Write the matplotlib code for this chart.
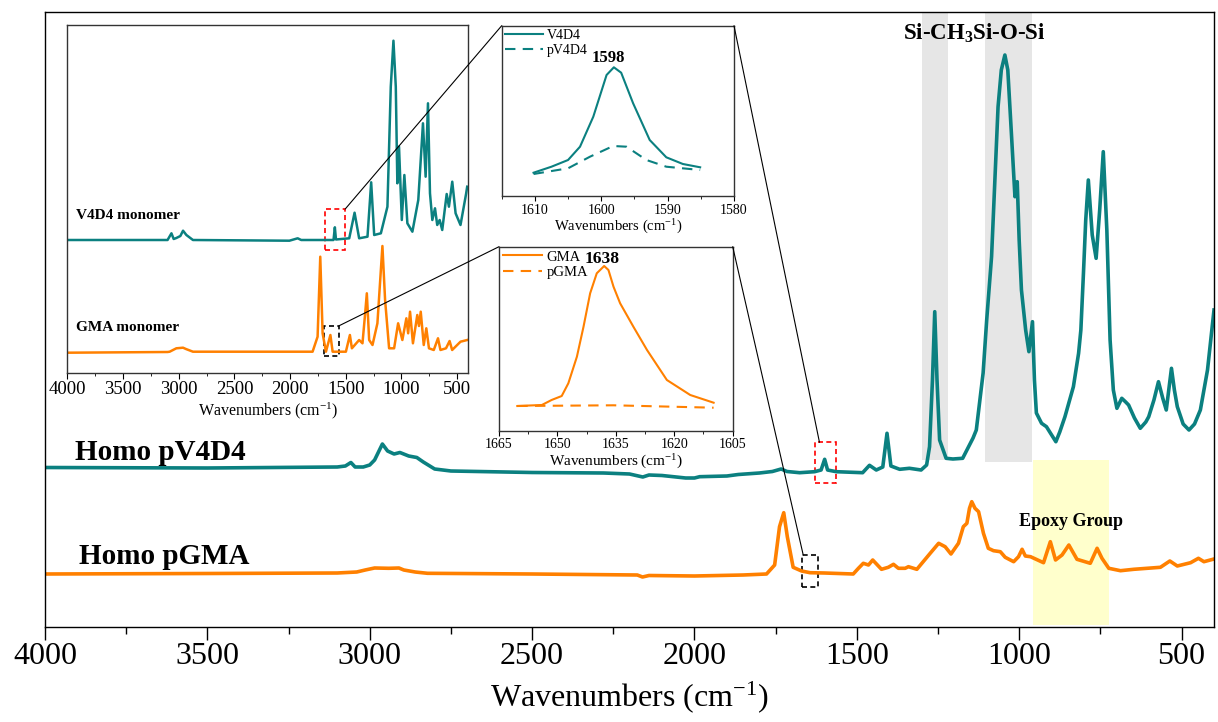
import matplotlib

matplotlib.use("Agg", force=True)
import matplotlib.pyplot as plt
from matplotlib.patches import ConnectionPatch, Rectangle
from matplotlib.ticker import MultipleLocator

W, H = 1218, 722
TEAL = "#0b8080"
ORANGE = "#ff8000"

# ---- main spectra (wavenumber, absorbance a.u.) ----
pv4d4_wn = [4000, 3500, 3100, 3075, 3058, 3045, 3020, 3000, 2985, 2961, 2945, 2925, 2907, 2880,
            2855, 2835, 2800, 2750, 2500, 2280, 2200, 2159, 2140, 2100, 2027, 2000, 1984, 1900,
            1865, 1800, 1760, 1733, 1715, 1676, 1630, 1610, 1599, 1590, 1563, 1482, 1461, 1440,
            1420, 1407, 1395, 1368, 1338, 1302, 1285, 1276, 1267, 1260, 1253, 1245, 1225, 1204,
            1174, 1142, 1132, 1111, 1100, 1085, 1065, 1055, 1044, 1035, 1024, 1013, 1006, 1000,
            993, 980, 970, 959, 953, 947, 931, 916, 900, 887, 875, 859, 833, 817, 810, 802, 795,
            787, 775, 763, 752, 741, 730, 720, 710, 699, 684, 672, 663, 645, 627, 610, 601, 585,
            571, 558, 547, 531, 522, 513, 495, 477, 460, 442, 420, 400]
pv4d4_abs = [159.5, 159, 160, 161, 164.5, 160, 160, 162, 167, 183, 176, 173, 174.5, 171,
             169.5, 165, 158, 156, 154.5, 154, 153, 150, 152, 151.5, 149, 149, 150.3, 151,
             152.5, 154, 155.5, 158, 155.5, 154.3, 155.3, 157, 167.7, 157, 155.3, 154.3, 161.7, 157,
             160, 193.7, 161, 157.7, 158.7, 157, 162, 180.3, 247, 315.3, 247, 187, 168.7, 168,
             168.7, 189, 197, 254, 307, 370.3, 520.3, 557, 572, 557, 494, 430.3, 445.3, 387,
             337, 297, 275.3, 305.3, 247, 214, 203.7, 200.3, 192, 185.3, 195, 210.3, 240.3, 273.7, 297, 354, 407,
             447, 392, 368.7, 417, 475.3, 397, 287, 237, 218.7, 228.7, 225, 222, 209, 198.7, 205, 210.3, 227,
             245.3, 229, 217, 258.7, 237, 220.3, 203, 197, 203, 217, 257, 317]

pgma_wn = [4000, 3500, 3100, 3040, 3014, 2985, 2941, 2910, 2895, 2860, 2822, 2500, 2176, 2160,
           2140, 2000, 1850, 1778, 1753, 1738, 1725, 1714, 1696, 1670, 1644, 1600, 1511, 1495,
           1480, 1464, 1451, 1424, 1403, 1387, 1372, 1351, 1341, 1315, 1274, 1248, 1228, 1210,
           1187, 1172, 1161, 1153, 1146, 1136, 1125, 1110, 1095, 1079, 1058, 1043, 1017, 1002,
           991, 981, 965, 925, 904, 888, 868, 847, 822, 781, 760, 745, 724, 688, 647, 565, 536,
           513, 472, 448, 431, 400]
pgma_abs = [53, 53.5, 54, 55, 57, 59, 58.7, 59, 57, 55, 53.7, 53, 52, 50,
            51.5, 51, 52, 53, 62, 100.3, 114.3, 90.3, 59.7, 56, 54.3, 54, 53, 58.7,
            63.7, 62, 67, 57.7, 59.7, 62.7, 58.7, 58.7, 60.3, 57.7, 73.7, 83.7, 80.3, 73,
            83.7, 100.3, 103.7, 118.7, 125.3, 118.7, 115.3, 93.7, 78.7, 76.3, 75.3, 69.7, 65.3, 70.3,
            77.7, 71, 70.3, 64.3, 85.3, 67, 72, 82, 67.7, 63.7, 78.7, 68.7, 58.7, 56.3, 57.7, 59.7, 66,
            61, 64.3, 68.7, 65.3, 68]

# ---- monomer spectra (left inset) ----
v4d4_wn = [4000, 3100, 3065, 3045, 3021, 2985, 2961, 2931, 2872, 2006, 1932, 1900, 1610, 1598,
           1588, 1469, 1421, 1380, 1305, 1272, 1245, 1185, 1126, 1096, 1072, 1051, 1037, 1022,
           997, 974, 947, 902, 849, 807, 783, 762, 744, 723, 699, 679, 657, 634, 594, 574, 544,
           514, 470, 419, 410]
v4d4_abs = [132.7, 132.7, 139.4, 133.7, 134.7, 136.7, 142, 137.7, 132.7, 132, 134.4, 132.7, 132.7, 145.4,
            133.2, 134.4, 160, 134.4, 136, 190.4, 137.7, 139.4, 166, 286, 332, 286, 189.4, 226,
            152.7, 197.7, 149.4, 141, 172.7, 249.4, 196, 269.4, 179.4, 152.7, 164.4, 147.7, 152.7, 142.7, 178.7, 166, 191,
            159.4, 147.7, 179.4, 186]

gma_wn = [4000, 3100, 3081, 3021, 2961, 2935, 2872, 1798, 1753, 1729, 1708, 1678, 1638, 1618,
          1499, 1463, 1445, 1380, 1350, 1326, 1311, 1290, 1260, 1216, 1171, 1147, 1111, 1066,
          1030, 992, 956, 940, 923, 897, 858, 843, 827, 800, 777, 753, 710, 672, 650, 600, 568,
          545, 470, 410]
gma_abs = [20, 20.7, 21, 24.4, 25, 23.7, 21, 21, 36, 116, 39.4, 21, 37.7, 21,
           21, 37.7, 24.4, 32.7, 29.4, 59.4, 79.4, 32.7, 27.7, 49.4, 126.7, 72.7, 24.4, 24.4,
           49.4, 32.7, 54.4, 39.4, 61, 29.4, 57.7, 46.7, 61, 27.7, 44.4, 24.4, 22.7, 34.4, 22.7, 24.4, 31.7,
           22.7, 31, 32.7]

# ---- zoomed C=C regions ----
z1_v4d4_wn = [1610.2, 1607.5, 1605, 1603.2, 1601.2, 1599.2, 1598.1, 1597, 1595.2, 1592.7, 1590.2, 1587.7, 1585.1]
z1_v4d4_abs = [23.3, 29.3, 36, 49.3, 79.3, 121, 128.7, 123.3, 92.7, 56, 38.7, 32, 28.7]
z1_pv4d4_wn = [1610.2, 1605, 1601.7, 1598.2, 1596.2, 1593.2, 1590.2, 1585.1]
z1_pv4d4_abs = [22, 27.7, 39.3, 50, 49.3, 36, 29.3, 26]

z2_gma_wn = [1660.3, 1654, 1651.5, 1648.9, 1647.2, 1645, 1643.3, 1641.6, 1639.9, 1638, 1636.9, 1635.6,
             1633.9, 1630.5, 1627, 1621.9, 1615.9, 1609.9]
z2_gma_abs = [24.7, 25.7, 30.7, 34.7, 47.4, 74, 104, 137.4, 157.4, 164.7, 160.7, 144, 127.4, 104, 80.7,
              50.7, 35.7, 28]
z2_pgma_wn = [1660.3, 1635.6, 1609.9]
z2_pgma_abs = [24.7, 25.4, 23]

# band annotations (wavenumber ranges)
sich3_band = [1300, 1220]
siosi_band = [1105, 962]
epoxy_band = [956, 722]


def px_rect(x0, y0, x1, y1):
    return [x0 / W, 1 - y1 / H, (x1 - x0) / W, (y1 - y0) / H]


plt.rcParams.update({
    "font.family": "Liberation Serif",
    "mathtext.fontset": "custom",
    "mathtext.rm": "Liberation Serif",
    "mathtext.it": "Liberation Serif:italic",
    "mathtext.bf": "Liberation Serif:bold",
    "axes.linewidth": 1.0,
})

fig = plt.figure(figsize=(W / 100, H / 100), dpi=100)

# ---------------- main axes ----------------
ax = fig.add_axes(px_rect(45, 12, 1214, 627))
ax.set_xlim(4000, 400)
ax.set_ylim(0, 615)
ax.axvspan(*sich3_band, ymin=167 / 615, ymax=1, color="#e6e6e6", lw=0, zorder=0)
ax.axvspan(*siosi_band, ymin=165 / 615, ymax=1, color="#e6e6e6", lw=0, zorder=0)
ax.axvspan(*epoxy_band, ymin=2 / 615, ymax=167 / 615, color="#ffffcc", lw=0, zorder=0)
ax.plot(pv4d4_wn, pv4d4_abs, color=TEAL, lw=2.6, solid_joinstyle="round")
ax.plot(pgma_wn, pgma_abs, color=ORANGE, lw=2.6, solid_joinstyle="round")
ax.set_yticks([])
ax.xaxis.set_major_locator(MultipleLocator(500))
ax.xaxis.set_minor_locator(MultipleLocator(250))
ax.tick_params(axis="x", which="major", direction="out", length=9, width=1, labelsize=23, pad=2)
ax.tick_params(axis="x", which="minor", direction="out", length=5, width=1)
ax.set_xlabel("Wavenumbers (cm$^{-1}$)", fontsize=23, labelpad=6)

ax.text(3908, 175, "Homo pV4D4", fontsize=21, fontweight="bold", ha="left", va="center")
ax.text(3895, 70, "Homo pGMA", fontsize=21, fontweight="bold", ha="left", va="center")
ax.text(839, 105, "Epoxy Group", fontsize=13, fontweight="bold", ha="center", va="center")
ax.text(1359, 587, r"Si-CH$_\mathbf{3}$Si-O-Si", fontsize=16.5, fontweight="bold",
        ha="left", va="baseline")

# dashed markers on main spectra
ax.add_patch(Rectangle((1630, 143.7), -65, 41, fill=False, ec="red", lw=1.2, ls=(0, (3, 2))))
ax.add_patch(Rectangle((1668, 39.7), -48, 32.3, fill=False, ec="black", lw=1.2, ls=(0, (3, 2))))

# ---------------- left inset: monomers ----------------
axl = fig.add_axes(px_rect(67.3, 25, 468.3, 372.7))
axl.set_xlim(4000, 400)
axl.set_ylim(0, 347.7)
axl.plot(v4d4_wn, v4d4_abs, color=TEAL, lw=1.8)
axl.plot(gma_wn, gma_abs, color=ORANGE, lw=1.8)
axl.set_yticks([])
axl.xaxis.set_major_locator(MultipleLocator(500))
axl.xaxis.set_minor_locator(MultipleLocator(250))
axl.tick_params(axis="x", which="major", direction="out", length=4, labelsize=13.5, pad=2)
axl.tick_params(axis="x", which="minor", direction="out", length=2.5)
axl.set_xlabel("Wavenumbers (cm$^{-1}$)", fontsize=11.5, labelpad=2)
for sp in axl.spines.values():
    sp.set_color("#333333")
axl.text(3920, 157, "V4D4 monomer", fontsize=11, fontweight="bold", ha="left", va="center")
axl.text(3920, 45, "GMA monomer", fontsize=11, fontweight="bold", ha="left", va="center")
axl.add_patch(Rectangle((1687, 122.7), -182, 41, fill=False, ec="red", lw=1.2, ls=(0, (3, 2))))
axl.add_patch(Rectangle((1699, 16.7), -140, 30.3, fill=False, ec="black", lw=1.2, ls=(0, (3, 2))))

# ---------------- zoom inset 1: V4D4 ----------------
ax1 = fig.add_axes(px_rect(501.7, 25.7, 734, 196))
ax1.set_xlim(1615, 1580)
ax1.set_ylim(0, 170.3)
ax1.plot(z1_v4d4_wn, z1_v4d4_abs, color=TEAL, lw=1.5, label="V4D4")
ax1.plot(z1_pv4d4_wn, z1_pv4d4_abs, color=TEAL, lw=1.5, ls=(0, (5, 3.5)), label="pV4D4")
ax1.set_yticks([])
ax1.xaxis.set_major_locator(MultipleLocator(10))
ax1.xaxis.set_minor_locator(MultipleLocator(5))
ax1.tick_params(axis="x", which="major", direction="out", length=3.5, labelsize=10, pad=2)
ax1.tick_params(axis="x", which="minor", direction="out", length=2)
ax1.set_xlabel("Wavenumbers (cm$^{-1}$)", fontsize=10.5, labelpad=1)
ax1.legend(loc="upper left", frameon=False, fontsize=10, handlelength=2.7, handletextpad=0.3,
           borderaxespad=0.15, borderpad=0.1, labelspacing=0.15)
ax1.text(1599, 138, "1598", fontsize=12, fontweight="bold", ha="center", va="center")
for sp in ax1.spines.values():
    sp.set_color("#333333")

# ---------------- zoom inset 2: GMA ----------------
ax2 = fig.add_axes(px_rect(499, 246.7, 732.7, 430.7))
ax2.set_xlim(1665, 1605)
ax2.set_ylim(0, 184)
ax2.plot(z2_gma_wn, z2_gma_abs, color=ORANGE, lw=1.5, label="GMA")
ax2.plot(z2_pgma_wn, z2_pgma_abs, color=ORANGE, lw=1.5, ls=(0, (5, 3.5)), label="pGMA")
ax2.set_yticks([])
ax2.xaxis.set_major_locator(MultipleLocator(15))
ax2.xaxis.set_minor_locator(MultipleLocator(7.5))
ax2.tick_params(axis="x", which="major", direction="out", length=3.5, labelsize=10, pad=2)
ax2.tick_params(axis="x", which="minor", direction="out", length=2)
ax2.set_xlabel("Wavenumbers (cm$^{-1}$)", fontsize=11, labelpad=1)
ax2.legend(loc="upper left", frameon=False, fontsize=10.5, handlelength=2.7, handletextpad=0.3,
           borderaxespad=0.15, borderpad=0.1, labelspacing=0.15)
ax2.text(1638.5, 171.7, "1638", fontsize=12.5, fontweight="bold", ha="center", va="center")
for sp in ax2.spines.values():
    sp.set_color("#333333")

# ---------------- connector lines ----------------
links = [
    ((1505, 163.7), axl, "data", (0, 1), ax1, "axes fraction"),
    ((1, 1), ax1, "axes fraction", (1615, 184.7), ax, "data"),
    ((1559, 47), axl, "data", (0, 1), ax2, "axes fraction"),
    ((1, 1), ax2, "axes fraction", (1665, 72), ax, "data"),
]
for xyA, axA, cA, xyB, axB, cB in links:
    con = ConnectionPatch(xyA=xyA, coordsA=cA, axesA=axA, xyB=xyB, coordsB=cB, axesB=axB,
                          color="black", lw=0.8)
    fig.add_artist(con)

fig.savefig("out.png", dpi=100)
plt.close(fig)
